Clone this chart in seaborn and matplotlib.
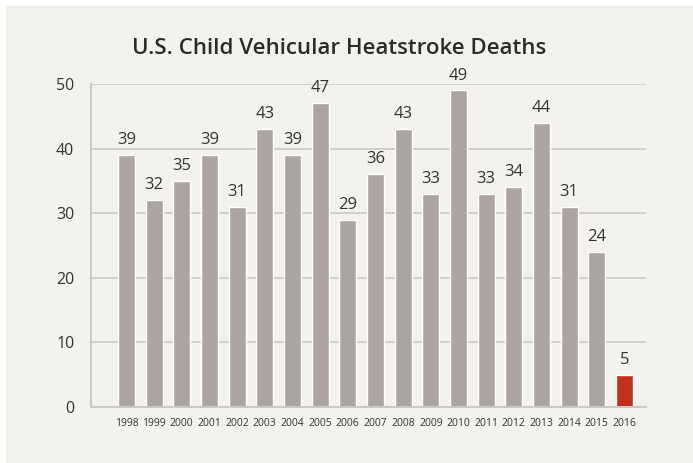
import matplotlib
matplotlib.use("Agg")
import matplotlib.pyplot as plt
import seaborn as sns
import pandas as pd
from matplotlib.patches import Rectangle

years = ["1998", "1999", "2000", "2001", "2002", "2003", "2004", "2005", "2006", "2007",
         "2008", "2009", "2010", "2011", "2012", "2013", "2014", "2015", "2016"]
deaths = [39, 32, 35, 39, 31, 43, 39, 47, 29, 36, 43, 33, 49, 33, 34, 44, 31, 24, 5]
yticks = [0, 10, 20, 30, 40, 50]
title = "U.S. Child Vehicular Heatstroke Deaths"

BG = "#f3f2ee"
GRAY = "#aca5a2"
RED = "#c0301d"
TXT = "#333333"
GRID = "#cbc9c7"

sns.set_theme(style="white")
plt.rcParams["font.family"] = ["Open Sans", "DejaVu Sans"]

df = pd.DataFrame({"year": years, "deaths": deaths})
colors = [GRAY] * (len(years) - 1) + [RED]

fig = plt.figure(figsize=(6.93, 4.63), dpi=100, facecolor="white")
fig.patches.append(Rectangle((6 / 693, 0), 1, 1 - 6 / 463, transform=fig.transFigure,
                             facecolor=BG, edgecolor="none", zorder=-10))
ax = fig.add_axes([91 / 693, 1 - 407 / 463, (646 - 91) / 693, (407 - 84) / 463])
ax.set_facecolor(BG)

sns.barplot(data=df, x="year", y="deaths", hue="year", palette=colors, legend=False,
            width=0.61, ax=ax, zorder=3, saturation=1)

ax.set_xlim(-1.28, len(years) - 1 + 0.78)
ax.set_ylim(0, 50)
ax.set_yticks(yticks)
ax.set_yticklabels([str(t) for t in yticks], fontsize=11.5, color=TXT)
ax.tick_params(axis="y", length=0, pad=12)
ax.tick_params(axis="x", length=0, pad=8, labelsize=7.5, labelcolor=TXT)
ax.yaxis.grid(True, color=GRID, linewidth=1.2, zorder=0)
ax.set_axisbelow(True)
ax.set_xlabel("")
ax.set_ylabel("")
for s in ["top", "right"]:
    ax.spines[s].set_visible(False)
for s in ["left", "bottom"]:
    ax.spines[s].set_color(GRID)
    ax.spines[s].set_linewidth(1.5)
    ax.spines[s].set_zorder(5)

for i, v in enumerate(deaths):
    ax.annotate(str(v), (i, v), xytext=(0, 5), textcoords="offset points",
                ha="center", va="bottom", fontsize=12, color=TXT)

fig.text(339 / 693, 1 - 49 / 463, title, ha="center", va="center",
         fontsize=16, fontweight="semibold", color="#2b2b2b")

fig.savefig("out.png", dpi=100, facecolor="white")
